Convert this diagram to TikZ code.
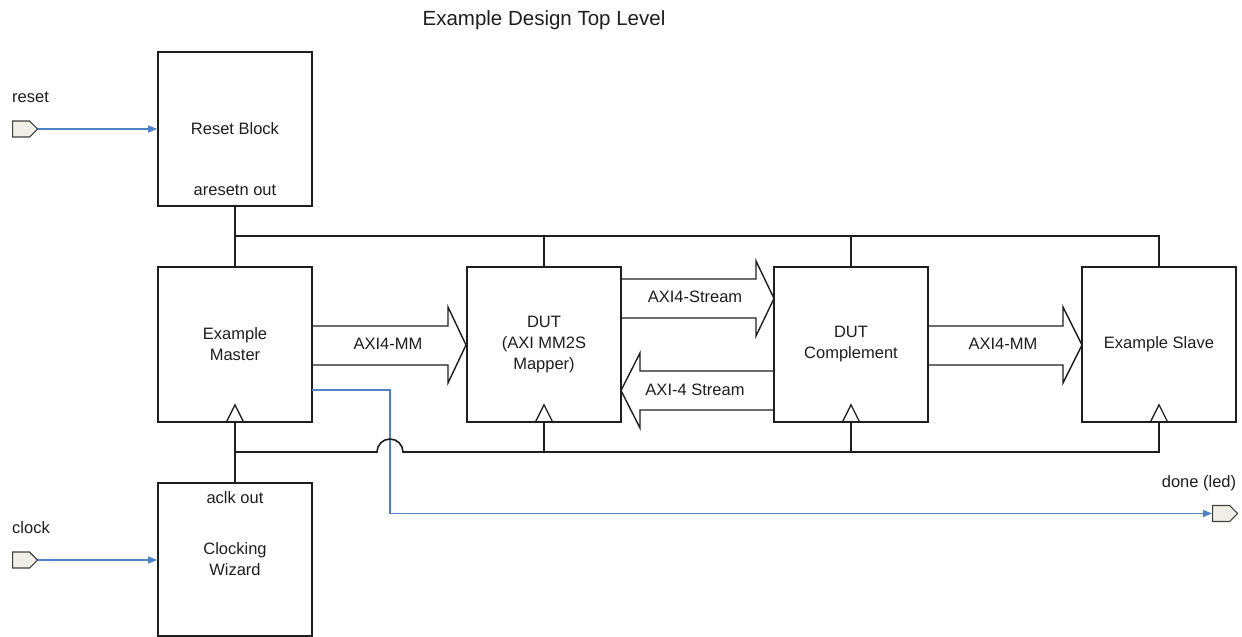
\documentclass[tikz,border=0pt]{standalone}
\usepackage{fontspec}
\setmainfont{Liberation Sans}
\usetikzlibrary{arrows.meta,shapes.symbols,calc}
\definecolor{sigblue}{HTML}{4F81C7}
\definecolor{portfill}{HTML}{EFEFE8}
\definecolor{ink}{HTML}{1E1E1E}
\begin{document}
\begin{tikzpicture}[x=1pt,y=-1pt,
  every node/.style={text=ink,font=\fontsize{16.5}{21}\selectfont},
  blk/.style={draw=ink,line width=1.6pt,minimum width=154pt,minimum height=155pt,inner sep=0pt,align=center},
  wire/.style={draw=ink,line width=1.6pt},
  sig/.style={draw=sigblue,line width=1.2pt,-{Triangle[length=9pt,width=7pt]}},
  port/.style={draw=ink!85,fill=portfill,line width=1.2pt,shape=signal,signal to=east,minimum width=25pt,minimum height=16pt,inner sep=0pt,anchor=west},
  bigarrow/.style={draw=ink,line width=1.4pt,line join=miter},
  clk/.style={draw=ink,line width=1.3pt},
  lbl/.style={inner sep=0pt}
]
\useasboundingbox (0,0) rectangle (1242,637);

% title
\node[lbl,font=\fontsize{20.5}{24}\selectfont] (title) at (544,20) {Example Design Top Level};

% blocks
\node[blk,minimum height=154pt] (reset) at (235,129) {Reset Block};
\node[lbl] (aresetn) at (235,190) {aresetn out};
\node[blk] (master) at (235,344.5) {Example\\Master};
\node[blk] (dut) at (544,344.5) {DUT\\(AXI MM2S\\Mapper)};
\node[blk] (comp) at (851,344.5) {DUT\\Complement};
\node[blk] (slave) at (1159,344.5) {Example Slave};
\node[blk,minimum height=153pt] (cw) at (235,559.5) {Clocking\\Wizard};
\node[lbl] (aclk) at (235,498) {aclk out};

% ports
\node[port] (resetport) at (12,129) {};
\node[lbl,anchor=west] (resetlbl) at (12,97) {reset};
\node[port] (clockport) at (12,560) {};
\node[lbl,anchor=west] (clocklbl) at (12,528) {clock};
\node[port] (doneport) at (1212,513.5) {};
\node[lbl] (donelbl) at (1199,483) {done (led)};

% blue signals
\draw[sig] (resetport.east) -- (reset.west |- resetport.east);
\draw[sig] (clockport.east) -- (cw.west |- clockport.east);
\coordinate (mo) at (312,390);
\coordinate (mt) at (390,390);
\draw[sig] (mo) -- (mt) |- (doneport.west);

% reset bus
\coordinate (rb) at (235,236);
\draw[wire] (reset.south) -- (master.north);
\draw[wire] (rb) -| (slave.north);
\draw[wire] (dut.north) -- (dut.north |- rb);
\draw[wire] (comp.north) -- (comp.north |- rb);

% clock bus with jump
\coordinate (cb) at (235,452);
\draw[wire] (cw.north) -- (master.south);
\draw[wire] (cb) -- (377,452) arc[start angle=180,end angle=360,radius=13] -| (slave.south);
\draw[wire] (dut.south) -- (dut.south |- cb);
\draw[wire] (comp.south) -- (comp.south |- cb);

% clock triangles
\foreach \b in {master,dut,comp,slave}{
  \draw[clk] ($(\b.south)+(-9,0)$) -- ($(\b.south)+(0,-18)$) -- ($(\b.south)+(9,0)$);
}

% wide bus arrows
\draw[bigarrow] (312,326) -- (448,326) -- (448,307) -- (466,345) -- (448,383) -- (448,365) -- (312,365);
\node[lbl] (mm1) at (388,344) {AXI4-MM};
\draw[bigarrow] (621,279) -- (756,279) -- (756,261) -- (774,298.5) -- (756,336) -- (756,318) -- (621,318);
\node[lbl] (st1) at (695,297) {AXI4-Stream};
\draw[bigarrow] (774,371) -- (640,371) -- (640,353) -- (621,390.5) -- (640,428) -- (640,410) -- (774,410);
\node[lbl] (st2) at (695,390) {AXI-4 Stream};
\draw[bigarrow] (928,326) -- (1063,326) -- (1063,307) -- (1082,345) -- (1063,383) -- (1063,365) -- (928,365);
\node[lbl] (mm2) at (1003,344) {AXI4-MM};
\end{tikzpicture}
\end{document}
